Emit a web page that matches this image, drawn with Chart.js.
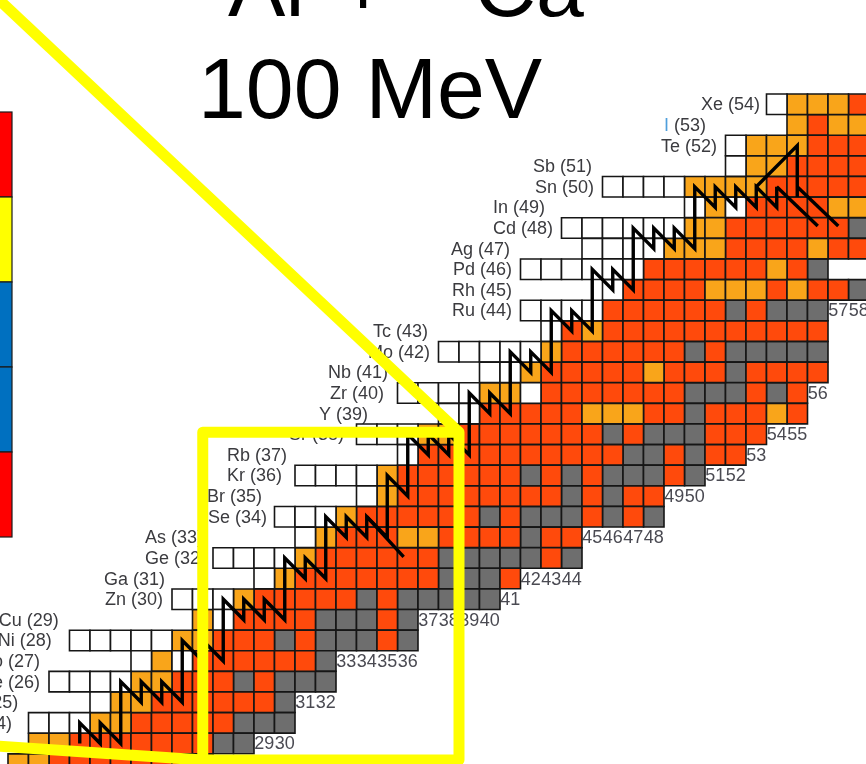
<!DOCTYPE html>
<html>
<head>
<meta charset="utf-8">
<title>100 MeV</title>
<script src="https://cdn.jsdelivr.net/npm/chart.js@4.4.1/dist/chart.umd.min.js"></script>
<style>
  html, body { margin: 0; padding: 0; background: #ffffff; overflow: hidden; }
  #frame { position: relative; width: 866px; height: 764px; }
</style>
</head>
<body>
<div id="frame"><canvas id="chart" width="866" height="764"></canvas></div>
<script>
// Proton number of each row of the chart, top to bottom
const rowZ = [54, 53, 52, 51, 50, 49, 48, 47, 46, 45, 44, 43, 42, 41, 40, 39, 38,
              37, 36, 35, 34, 33, 32, 31, 30, 29, 28, 27, 26, 25, 24, 23, 22];
const rowSymbol = ['Xe', 'I', 'Te', 'Sb', 'Sn', 'In', 'Cd', 'Ag', 'Pd', 'Rh', 'Ru', 'Tc', 'Mo', 'Nb', 'Zr', 'Y', 'Sr',
                   'Rb', 'Kr', 'Br', 'Se', 'As', 'Ge', 'Ga', 'Zn', 'Cu', 'Ni', 'Co', 'Fe', 'Mn', 'Cr', 'V', 'Ti'];
// Neutron number of the first cell in each row
const rowFirstN = [54, 55, 52, 52, 46, 50, 44, 45, 42, 46, 42, 43, 38, 40, 36, 38, 34,
                   36, 31, 34, 30, 31, 27, 29, 25, 26, 20, 23, 19, 21, 18, 18, 17];
// One letter per isotope, in order of increasing N:
// W = known, not seen   O = orange   R = red   G = grey
const rowCells = [
  'WOOOR',
  'OROO',
  'WOOORRR',
  'WOORRRR',
  'WWWWOOOORRRRR',
  'WOWRRRROO',
  'WWWWWWOORRRRRRG',
  'WWWWOOORRRRORR',
  'WWWWWWRRRRRRORG',
  'WRRRROOORORRG',
  'WWWWRRRRRRGRGGG',
  'WRORRRRRRRRRRR',
  'WWWWWORRRRRRGRGGGGG',
  'WWORRRRRORRRGRRRR',
  'WWWWOOWRRRRRRRGGGRGR',
  'WWRRRRROOORRGRRROR',
  'WWWOORRRRRRRGRGGGRRR',
  'WRRRRRRRRRRGGRGRR',
  'WWWWORRRRRRGRGRGGGRG',
  'WORRRRRRRRGRGRR',
  'WWWORRRRRRGRGGGRGRG',
  'WORRROORRRRGRR',
  'WWWWORRRRRRGGGGGRG',
  'WORRRRRRRGGGR',
  'WWWORRRRRGRGGGGG',
  'OWRRRRGGGRG',
  'WWWWWOORRRGRGGGRG',
  'WOWRRRRRRG',
  'WWWWOORRRGRGGG',
  'WOORRRRRRG',
  'WWWOORRRRRGGG',
  'OORRRRRRRGG',
  'OORRRRRRRR'
];
// Neutron-axis position where each row label ends (null = off the page)
const rowLabelEnd = [53.18, 50.55, 51.09, 44.99, 45.09, 42.70, 43.09, 40.99, 41.09, 41.09, 41.09, 36.99, 37.09,
                     35.04, 34.84, 34.06, 32.89, 30.11, 29.87, 28.89, 29.13, 26.01, 26.16, 24.16, 24.06,
                     18.98, 18.64, 18.06, 18.06, 17.00, 16.70, null, null];

// Neutron numbers printed under the lowest isotope of each column, and the row they sit in
const neutronTickN   = [29, 30, 31, 32, 33, 34, 35, 36, 37, 38, 39, 40, 41, 42, 43, 44, 45,
                        46, 47, 48, 49, 50, 51, 52, 53, 54, 55, 56, 57, 58];
const neutronTickRow = [23, 23, 25, 25, 27, 27, 27, 27, 29, 29, 29, 29, 30, 31, 31, 31, 33,
                        33, 33, 33, 35, 35, 36, 36, 37, 38, 38, 40, 44, 44];

// rp-process path through the cells (N, Z)
const rpPath = [
  [20, 23], [20, 24], [21, 23], [21, 24], [22, 23], [22, 26], [23, 25], [23, 26], [24, 25], [24, 26],
  [25, 25], [25, 28], [26, 27], [26, 28], [27, 27], [27, 30], [28, 29], [28, 30], [29, 29], [29, 30],
  [30, 29], [30, 32], [31, 31], [31, 32], [32, 31], [32, 34], [33, 33], [33, 34], [34, 33], [34, 34],
  [35, 33], [35, 36], [36, 35], [36, 38], [37, 37], [37, 38], [38, 37], [38, 38], [39, 37], [39, 40],
  [40, 39], [40, 40], [41, 39], [41, 42], [42, 41], [42, 42], [43, 41], [43, 44], [44, 43], [44, 44],
  [45, 43], [45, 46], [46, 45], [46, 46], [47, 45], [47, 48], [48, 47], [48, 48], [49, 47], [49, 48],
  [50, 47], [50, 50], [51, 49], [51, 50], [52, 49], [52, 50], [53, 49], [53, 50], [54, 49], [54, 50]
];
// SnSbTe cycle and decay branches
const cycleUp    = [[53, 50], [55, 52], [55, 49.5]];
const cycleDecA  = [[55, 50], [57, 48.1]];
const cycleDecB  = [[54, 50], [56, 48.1]];
const seDecay    = [[34, 34], [35.8, 32.05]];

// Yellow call-out frame (in N, Z units)
const calloutBox   = [[26.0, 38.1], [38.5, 38.1], [38.5, 22.2], [26.0, 22.2], [26.0, 38.1], [38.5, 38.1]];
const calloutUpper = [[15.6, 59.5], [38.5, 38.1]];
const calloutLower = [[15.6, 22.9], [26.0, 22.2]];

const cellColour = { W: '#ffffff', O: '#f9a51a', R: '#ff4a0c', G: '#6e6e6e' };

const cellGroups = { W: [], O: [], R: [], G: [] };
rowZ.forEach((z, i) => {
  [...rowCells[i]].forEach((code, k) => {
    if (cellGroups[code]) cellGroups[code].push({ x: rowFirstN[i] + k, y: z });
  });
});

// square side = one unit on the axes; a 'rect' point is radius * sqrt(2) wide
const cellRadius = ctx => {
  const { x, y } = ctx.chart.scales;
  const w = Math.abs(x.getPixelForValue(1) - x.getPixelForValue(0));
  const h = Math.abs(y.getPixelForValue(1) - y.getPixelForValue(0));
  return Math.min(w, h) / Math.SQRT2;
};

const toXY = pts => pts.map(([n, z]) => ({ x: n, y: z }));

const cellDataset = code => ({
  type: 'scatter',
  data: cellGroups[code],
  pointStyle: 'rect',
  pointRadius: cellRadius,
  pointHoverRadius: cellRadius,
  backgroundColor: cellColour[code],
  borderColor: '#161616',
  borderWidth: 1.6,
  order: 3
});

const pathDataset = (pts, colour, width, order, join) => ({
  type: 'scatter',
  data: toXY(pts),
  showLine: true,
  borderColor: colour,
  borderWidth: width,
  pointRadius: 0,
  pointHoverRadius: 0,
  borderJoinStyle: join || 'miter',
  fill: false,
  order
});

const labelPlugin = {
  id: 'nuclideLabels',
  beforeDatasetsDraw(chart) {
    const { ctx, scales: { x, y } } = chart;
    ctx.save();
    ctx.font = '18px "Liberation Sans", Arial, Helvetica, sans-serif';
    ctx.textBaseline = 'middle';
    ctx.textAlign = 'right';
    rowZ.forEach((z, i) => {
      const end = rowLabelEnd[i];
      if (end === null) return;
      const px = x.getPixelForValue(end);
      const py = y.getPixelForValue(z) + 1;
      const tail = ' (' + z + ')';
      ctx.fillStyle = '#3b3b3f';
      ctx.fillText(tail, px, py);
      ctx.fillStyle = rowSymbol[i] === 'I' ? '#4f9fdc' : '#3b3b3f';
      ctx.fillText(rowSymbol[i], px - ctx.measureText(tail).width, py);
    });
    ctx.textAlign = 'center';
    ctx.fillStyle = '#4a4a52';
    neutronTickN.forEach((n, i) => {
      ctx.fillText(String(n), x.getPixelForValue(n), y.getPixelForValue(neutronTickRow[i]) + 1);
    });
    ctx.restore();
  }
};

// Slide furniture: heading and the colour strip on the left edge
const slidePlugin = {
  id: 'slideFurniture',
  beforeDatasetsDraw(chart) {
    const { ctx } = chart;
    ctx.save();
    ctx.fillStyle = '#000000';
    ctx.textBaseline = 'alphabetic';
    ctx.textAlign = 'left';
    ctx.font = '86px "Liberation Sans", Arial, Helvetica, sans-serif';
    ctx.fillText('100 MeV', 198, 118);
    ctx.fillText('Ar +', 228, 16);
    ctx.fillText('Ca', 474, 16);
    const strip = [['#ff0000', 112, 197], ['#ffff00', 197, 282], ['#0070c0', 282, 367],
                   ['#0070c0', 367, 452], ['#ff0000', 452, 537]];
    strip.forEach(([c, t, b]) => {
      ctx.fillStyle = c;
      ctx.fillRect(0, t, 12, b - t);
      ctx.strokeStyle = '#1a1a1a';
      ctx.lineWidth = 1.2;
      ctx.strokeRect(-1, t, 13, b - t);
    });
    ctx.restore();
  }
};

new Chart(document.getElementById('chart'), {
  type: 'scatter',
  data: {
    datasets: [
      pathDataset(calloutBox, '#ffff00', 11, 0, 'round'),
      pathDataset(calloutUpper, '#ffff00', 11, 0),
      pathDataset(calloutLower, '#ffff00', 11, 0),
      pathDataset(rpPath, '#000000', 3.4, 1),
      pathDataset(cycleUp, '#000000', 3.4, 1),
      pathDataset(cycleDecA, '#000000', 3.4, 1),
      pathDataset(cycleDecB, '#000000', 3.4, 1),
      pathDataset(seDecay, '#000000', 3.4, 1),
      cellDataset('W'),
      cellDataset('O'),
      cellDataset('R'),
      cellDataset('G')
    ]
  },
  options: {
    responsive: false,
    animation: false,
    devicePixelRatio: 1,
    events: [],
    layout: { padding: 0 },
    plugins: { legend: { display: false }, tooltip: { enabled: false } },
    scales: {
      x: { type: 'linear', min: 16.1098, max: 58.3537, display: false },
      y: { type: 'linear', min: 22.0073, max: 59.0587, display: false }
    }
  },
  plugins: [slidePlugin, labelPlugin]
});
</script>
</body>
</html>
